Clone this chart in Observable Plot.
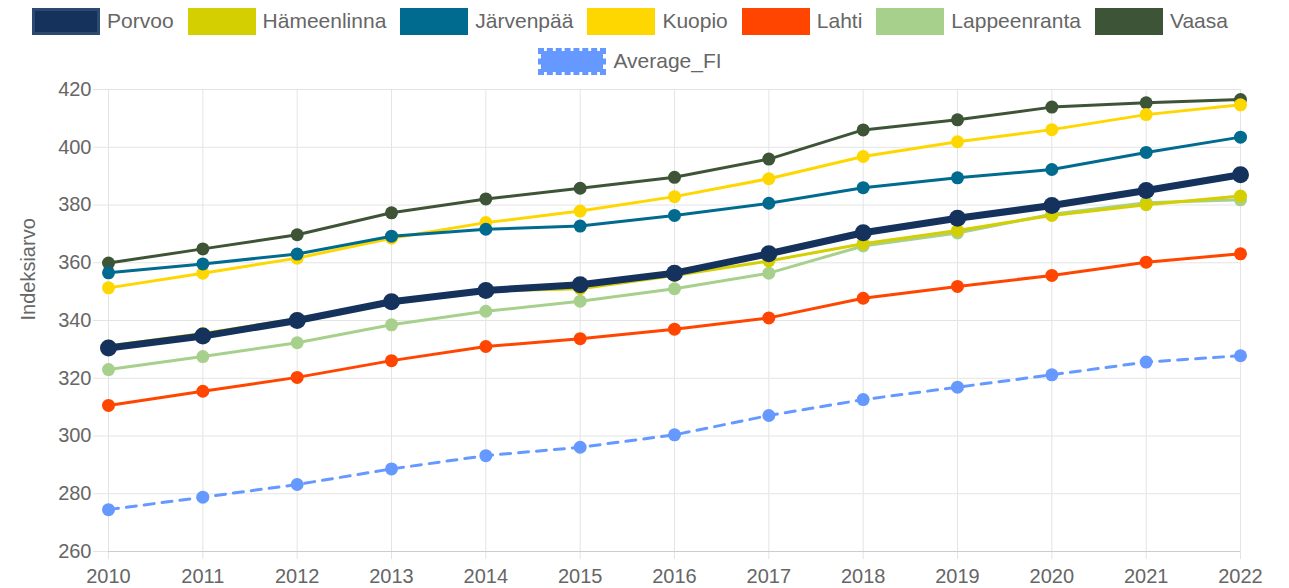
<!DOCTYPE html>
<html>
<head>
<meta charset="utf-8">
<script src="https://cdn.jsdelivr.net/npm/d3@7"></script>
<script src="https://cdn.jsdelivr.net/npm/@observablehq/plot@0.6"></script>
<style>
  html, body { margin: 0; padding: 0; background: #fff; }
  #legend { width: 1260px; height: 80px; padding-top: 1px; box-sizing: border-box;
            font-family: 'Liberation Sans', Arial, sans-serif; font-size: 21px; color: #666; }
  .row { height: 40px; display: flex; justify-content: center; align-items: center; gap: 14px; }
  .item { display: flex; align-items: center; gap: 7px; white-space: nowrap; }
  .box { width: 68px; height: 27px; box-sizing: border-box; }
  #chart svg { display: block; }
</style>
</head>
<body>
<div id="legend"></div>
<div id="chart"></div>
<script>
const years = [2010, 2011, 2012, 2013, 2014, 2015, 2016, 2017, 2018, 2019, 2020, 2021, 2022];
const yTicks = [260, 280, 300, 320, 340, 360, 380, 400, 420];

const seriesNames = ["Porvoo", "Hämeenlinna", "Järvenpää", "Kuopio", "Lahti", "Lappeenranta", "Vaasa", "Average_FI"];
const seriesColors = ["#14325c", "#d4cf00", "#006b8f", "#ffd700", "#ff4500", "#a8d08d", "#3d5436", "#6699ff"];

const porvoo       = [330.5, 334.6, 340.0, 346.5, 350.4, 352.4, 356.4, 363.1, 370.4, 375.4, 379.8, 385.0, 390.5];
const hameenlinna  = [331.2, 335.5, 340.6, 346.4, 350.2, 351.0, 355.6, 360.6, 366.6, 371.2, 376.4, 380.1, 383.1];
const jarvenpaa    = [356.5, 359.6, 363.0, 369.2, 371.6, 372.7, 376.4, 380.6, 386.0, 389.4, 392.3, 398.2, 403.5];
const kuopio       = [351.3, 356.4, 361.6, 368.5, 373.9, 377.9, 382.9, 389.1, 396.8, 401.9, 406.1, 411.3, 414.7];
const lahti        = [310.6, 315.5, 320.3, 326.1, 331.0, 333.7, 337.0, 340.9, 347.7, 351.8, 355.6, 360.2, 363.1];
const lappeenranta = [323.0, 327.5, 332.3, 338.5, 343.2, 346.7, 351.0, 356.4, 365.8, 370.3, 376.8, 380.8, 381.8];
const vaasa        = [359.9, 364.8, 369.7, 377.3, 382.1, 385.8, 389.6, 395.9, 406.0, 409.5, 413.9, 415.4, 416.5];
const averageFI    = [274.5, 278.8, 283.2, 288.6, 293.2, 296.1, 300.4, 307.1, 312.6, 316.9, 321.2, 325.6, 327.8];

const seriesValues = [porvoo, hameenlinna, jarvenpaa, kuopio, lahti, lappeenranta, vaasa, averageFI];

// Legend
const legend = document.getElementById("legend");
const rows = [seriesNames.slice(0, 7), seriesNames.slice(7)];
rows.forEach(names => {
  const row = document.createElement("div");
  row.className = "row";
  names.forEach(name => {
    const i = seriesNames.indexOf(name);
    const item = document.createElement("div");
    item.className = "item";
    const box = document.createElement("span");
    box.className = "box";
    box.style.background = seriesColors[i];
    if (name === "Average_FI") {
      box.style.border = `3px dashed ${seriesColors[i]}`;
      box.style.backgroundClip = "padding-box";
      box.style.background = seriesColors[i];
      box.style.backgroundClip = "padding-box";
    } else {
      box.style.border = `${name === "Porvoo" ? 3 : 1}px solid ${name === "Porvoo" ? "#2b4a72" : seriesColors[i]}`;
    }
    const label = document.createElement("span");
    label.textContent = name;
    item.appendChild(box);
    item.appendChild(label);
    row.appendChild(item);
  });
  legend.appendChild(row);
});

// Chart
const gridColor = "#e4e4e4";
const marks = [
  Plot.gridX(years, {x: d => d, stroke: gridColor, strokeOpacity: 1}),
  Plot.gridY(yTicks, {y: d => d, stroke: gridColor, strokeOpacity: 1}),
  Plot.axisY({ticks: yTicks, tickSize: 15, tickPadding: 2, stroke: gridColor, fill: "#666", fontSize: 20, label: null}),
  Plot.axisX({ticks: years, tickSize: 8, tickPadding: 9, stroke: gridColor, fill: "#666", fontSize: 20, label: null, tickFormat: d => String(d)}),
  Plot.ruleY([260], {stroke: "#cdcdcd"}),
  Plot.text(["Indeksiarvo"], {frameAnchor: "left", dx: -80, rotate: -90, fill: "#666", fontSize: 20, text: d => d})
];

for (let i = seriesNames.length - 1; i >= 0; i--) {
  const data = years.map((year, j) => ({year, value: seriesValues[i][j]}));
  const name = seriesNames[i];
  const isAvg = name === "Average_FI";
  const isPorvoo = name === "Porvoo";
  marks.push(Plot.line(data, {
    x: "year", y: "value", stroke: seriesColors[i],
    strokeWidth: isPorvoo ? 7 : 3,
    strokeDasharray: isAvg ? "10,8" : null
  }));
  marks.push(Plot.dot(data, {
    x: "year", y: "value", fill: seriesColors[i], stroke: "none",
    r: isPorvoo ? 8.5 : 6.5
  }));
}

const chart = Plot.plot({
  width: 1289,
  height: 508,
  marginTop: 9,
  marginBottom: 37,
  marginLeft: 108,
  marginRight: 49,
  x: {type: "linear", domain: [2010, 2022]},
  y: {type: "linear", domain: [260, 420]},
  style: {fontFamily: "'Liberation Sans', Arial, sans-serif", fontSize: "20px", background: "#fff", overflow: "visible"},
  marks
});
document.getElementById("chart").appendChild(chart);
</script>
</body>
</html>
